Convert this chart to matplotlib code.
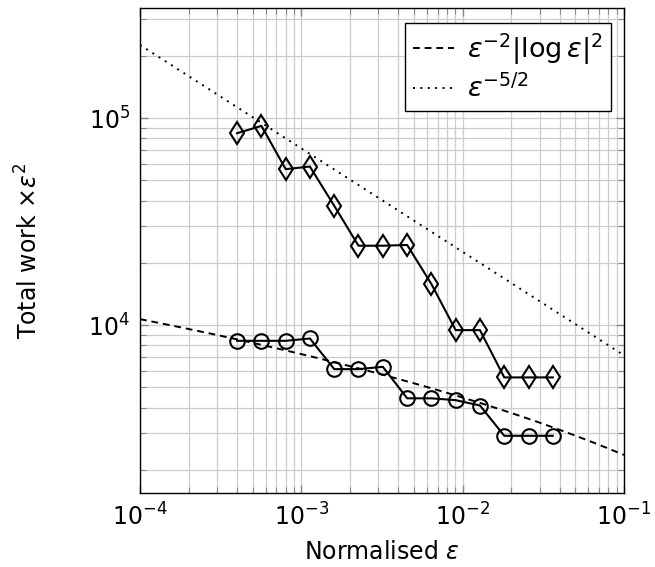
import numpy as np
import matplotlib
matplotlib.use("Agg")
import matplotlib.pyplot as plt
from matplotlib.ticker import LogLocator, NullFormatter

plt.rcParams['font.family'] = ['DejaVu Sans']
plt.rcParams['mathtext.fontset'] = 'dejavusans'
plt.rcParams['font.size'] = 17

# normalised epsilon for each run
eps = [4.00e-4, 5.66e-4, 8.00e-4, 1.13e-3, 1.60e-3, 2.26e-3, 3.20e-3,
       4.53e-3, 6.40e-3, 9.05e-3, 1.28e-2, 1.81e-2, 2.56e-2, 3.62e-2]

# total work times eps^2
work_diamond = [8.46e4, 9.18e4, 5.67e4, 5.84e4, 3.77e4, 2.42e4, 2.42e4,
                2.44e4, 1.58e4, 9.46e3, 9.46e3, 5.59e3, 5.59e3, 5.59e3]
work_circle = [8.40e3, 8.40e3, 8.40e3, 8.62e3, 6.13e3, 6.13e3, 6.29e3,
               4.43e3, 4.43e3, 4.34e3, 4.09e3, 2.92e3, 2.92e3, 2.92e3]

# reference rates (scaled by eps^2)
c_log = 63.0       # eps^-2 |log eps|^2
eps_scale = 0.022  # actual eps / normalised eps
c_pow = 2260.0     # eps^-5/2

xmin, xmax = 1e-4, 1e-1
ymin, ymax = 1.54e3, 3.41e5

fig = plt.figure(figsize=(6.55, 5.67), dpi=100)
ax = fig.add_axes([0.2137, 0.130, 0.7390, 0.8560])
ax.set_xscale('log')
ax.set_yscale('log')

xr = np.logspace(-4, -1, 200)
ax.plot(xr, c_log * np.log(eps_scale * xr) ** 2, color='black', lw=1.4,
        linestyle=(0, (3.5, 2.5)), label=r'$\varepsilon^{-2}|\log\varepsilon|^2$')
ax.plot(xr, c_pow * xr ** -0.5, color='black', lw=1.4,
        linestyle=(0, (1, 2.8)), label=r'$\varepsilon^{-5/2}$')

ax.plot(eps, work_diamond, color='black', lw=1.5, marker='d', markersize=11.5,
        fillstyle='none', markeredgewidth=1.5)
ax.plot(eps, work_circle, color='black', lw=1.5, marker='o', markersize=10.5,
        fillstyle='none', markeredgewidth=1.5)

ax.set_xlim(xmin, xmax)
ax.set_ylim(ymin, ymax)

for axis in (ax.xaxis, ax.yaxis):
    axis.set_major_locator(LogLocator(base=10, numticks=10))
    axis.set_minor_locator(LogLocator(base=10, subs=np.arange(2, 10), numticks=20))
    axis.set_minor_formatter(NullFormatter())

ax.grid(True, which='both', color='#cccccc', lw=0.9)
ax.set_axisbelow(True)
ax.tick_params(which='both', direction='in', top=True, right=True, color='#888888')
ax.tick_params(which='major', length=6, width=1, pad=7)
ax.tick_params(which='minor', length=4, width=0.8)
for s in ax.spines.values():
    s.set_color('black')
    s.set_linewidth(1.0)

ax.set_xlabel(r'Normalised $\varepsilon$', labelpad=7)
ax.set_ylabel(r'Total work $\times\varepsilon^2$', labelpad=33)

leg = ax.legend(loc='upper right', bbox_to_anchor=(0.973, 0.969), fancybox=False,
                edgecolor='black', framealpha=1, handlelength=1.5, handletextpad=0.5,
                borderpad=0.3, labelspacing=0.3, borderaxespad=0, fontsize=19.5)
leg.get_frame().set_linewidth(1.0)

fig.savefig('out.png', dpi=100)
